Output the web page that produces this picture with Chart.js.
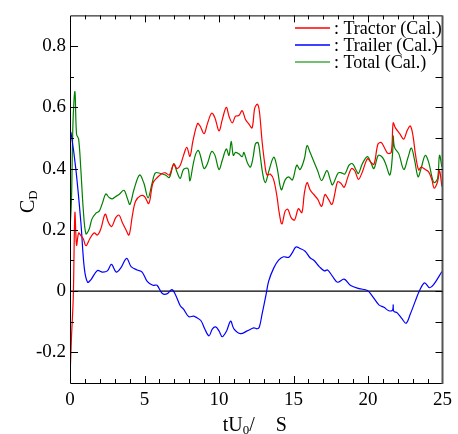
<!DOCTYPE html>
<html>
<head>
<meta charset="utf-8">
<script src="https://cdn.jsdelivr.net/npm/chart.js@4.4.0/dist/chart.umd.min.js"></script>
<style>
  html, body { margin: 0; padding: 0; background: #fff; }
  #wrap { width: 458px; height: 434px; }
</style>
</head>
<body>
<div id="wrap"><canvas id="cdChart" width="458" height="434"></canvas></div>
<script>
// time axis tU0/sqrt(S) and drag coefficient values
const tractorT = [0, 0.1, 0.22, 0.33, 0.44, 0.58, 0.73, 0.89, 1.07, 1.33, 1.62, 1.84, 2.07, 2.36, 2.58, 2.8, 3.07, 3.29, 3.51, 3.73, 3.96, 4.18, 4.4, 4.73, 5.0, 5.29, 5.56, 5.84, 6.18, 6.4, 6.67, 6.96, 7.18, 7.4, 7.62, 7.84, 8.05, 8.25, 8.56, 8.73, 9.0, 9.22, 9.51, 9.73, 10.0, 10.22, 10.49, 10.67, 10.89, 11.11, 11.33, 11.56, 11.78, 12.0, 12.22, 12.4, 12.58, 12.71, 12.89, 13.07, 13.22, 13.44, 13.67, 13.89, 14.04, 14.22, 14.44, 14.62, 14.84, 15.07, 15.33, 15.56, 15.73, 15.91, 16.11, 16.33, 16.62, 16.89, 17.11, 17.33, 17.58, 17.78, 17.96, 18.18, 18.4, 18.62, 18.89, 19.11, 19.36, 19.62, 19.96, 20.18, 20.4, 20.67, 20.89, 21.11, 21.33, 21.56, 21.69, 21.84, 22.13, 22.4, 22.62, 22.84, 23.02, 23.18, 23.4, 23.56, 23.84, 24.07, 24.29, 24.44, 24.67, 24.8, 24.96];
const tractorCd = [-0.283, -0.15, -0.02, 0.256, 0.15, 0.19, 0.181, 0.171, 0.148, 0.171, 0.19, 0.183, 0.203, 0.251, 0.224, 0.211, 0.24, 0.248, 0.224, 0.203, 0.183, 0.245, 0.293, 0.311, 0.309, 0.286, 0.352, 0.37, 0.384, 0.386, 0.379, 0.414, 0.4, 0.411, 0.443, 0.469, 0.44, 0.49, 0.547, 0.539, 0.514, 0.546, 0.581, 0.565, 0.523, 0.56, 0.6, 0.571, 0.549, 0.571, 0.573, 0.589, 0.56, 0.546, 0.533, 0.597, 0.61, 0.587, 0.49, 0.416, 0.379, 0.382, 0.363, 0.309, 0.256, 0.219, 0.261, 0.267, 0.24, 0.232, 0.269, 0.256, 0.32, 0.354, 0.331, 0.317, 0.3, 0.277, 0.315, 0.301, 0.283, 0.32, 0.357, 0.352, 0.339, 0.368, 0.4, 0.393, 0.365, 0.389, 0.432, 0.421, 0.414, 0.48, 0.485, 0.467, 0.45, 0.453, 0.549, 0.533, 0.514, 0.496, 0.523, 0.539, 0.507, 0.448, 0.395, 0.405, 0.397, 0.389, 0.363, 0.336, 0.357, 0.393, 0.341];

const trailerT = [0, 0.07, 0.4, 0.73, 0.96, 1.18, 1.4, 1.84, 2.18, 2.51, 2.78, 3.1, 3.4, 3.8, 4.1, 4.5, 4.84, 5.18, 5.56, 5.84, 6.18, 6.5, 6.84, 7.07, 7.4, 7.62, 7.96, 8.3, 8.44, 8.78, 9.04, 9.33, 9.56, 9.78, 10.0, 10.22, 10.51, 10.78, 11.0, 11.44, 11.89, 12.33, 12.56, 12.71, 12.89, 13.16, 13.33, 13.67, 14.0, 14.33, 14.67, 14.89, 15.16, 15.44, 15.78, 16.11, 16.4, 16.73, 17.07, 17.29, 17.62, 17.96, 18.4, 18.84, 19.4, 19.96, 20.29, 20.73, 21.07, 21.4, 21.65, 21.69, 21.73, 21.96, 22.29, 22.56, 22.84, 23.18, 23.47, 23.8, 24.13, 24.4, 24.96];
const trailerCd = [0.52, 0.517, 0.395, 0.224, 0.075, 0.029, 0.037, 0.067, 0.062, 0.066, 0.087, 0.062, 0.075, 0.107, 0.08, 0.069, 0.062, 0.032, 0.019, 0.019, -0.007, -0.009, 0.005, -0.011, -0.048, -0.059, -0.083, -0.082, -0.085, -0.096, -0.123, -0.146, -0.123, -0.117, -0.13, -0.149, -0.13, -0.098, -0.123, -0.139, -0.13, -0.12, -0.123, -0.117, -0.075, -0.011, 0.032, 0.075, 0.101, 0.112, 0.11, 0.123, 0.144, 0.139, 0.13, 0.109, 0.099, 0.08, 0.066, 0.069, 0.048, 0.029, 0.039, 0.018, 0.008, 0.002, -0.016, -0.045, -0.053, -0.064, -0.062, -0.045, -0.066, -0.071, -0.091, -0.105, -0.075, -0.032, 0.003, 0.027, 0.011, 0.021, 0.064];

const totalT = [0, 0.1, 0.2, 0.33, 0.44, 0.58, 0.73, 0.89, 1.07, 1.29, 1.47, 1.73, 1.96, 2.18, 2.4, 2.62, 2.84, 3.07, 3.29, 3.62, 3.84, 4.02, 4.29, 4.67, 4.96, 5.24, 5.51, 5.73, 6.07, 6.4, 6.67, 6.96, 7.18, 7.4, 7.62, 7.91, 8.05, 8.25, 8.44, 8.62, 8.78, 9.0, 9.22, 9.51, 9.73, 10.0, 10.22, 10.49, 10.67, 10.82, 10.96, 11.11, 11.33, 11.56, 11.67, 11.89, 12.11, 12.29, 12.44, 12.62, 12.78, 12.93, 13.11, 13.33, 13.67, 13.89, 14.18, 14.44, 14.67, 14.93, 15.22, 15.44, 15.73, 15.91, 16.11, 16.33, 16.62, 16.89, 17.24, 17.47, 17.62, 18.0, 18.22, 18.44, 18.73, 18.96, 19.18, 19.36, 19.62, 19.96, 20.18, 20.4, 20.69, 20.96, 21.18, 21.47, 21.65, 21.69, 21.78, 22.07, 22.4, 22.69, 22.91, 23.13, 23.36, 23.56, 23.84, 24.07, 24.29, 24.44, 24.67, 24.8, 24.96];
const totalCd = [0.2, 0.3, 0.55, 0.651, 0.512, 0.496, 0.395, 0.267, 0.187, 0.203, 0.235, 0.254, 0.261, 0.288, 0.317, 0.306, 0.301, 0.309, 0.315, 0.329, 0.304, 0.283, 0.331, 0.379, 0.352, 0.304, 0.352, 0.386, 0.384, 0.379, 0.371, 0.416, 0.389, 0.368, 0.397, 0.4, 0.36, 0.41, 0.448, 0.459, 0.437, 0.4, 0.416, 0.456, 0.443, 0.397, 0.427, 0.464, 0.443, 0.489, 0.443, 0.453, 0.448, 0.439, 0.453, 0.421, 0.405, 0.437, 0.48, 0.485, 0.437, 0.384, 0.354, 0.389, 0.437, 0.405, 0.331, 0.363, 0.373, 0.363, 0.411, 0.397, 0.432, 0.475, 0.453, 0.427, 0.393, 0.361, 0.393, 0.363, 0.347, 0.386, 0.386, 0.382, 0.411, 0.416, 0.397, 0.384, 0.416, 0.439, 0.421, 0.4, 0.443, 0.437, 0.416, 0.379, 0.45, 0.507, 0.469, 0.448, 0.397, 0.437, 0.467, 0.427, 0.373, 0.4, 0.443, 0.421, 0.373, 0.354, 0.368, 0.443, 0.405];

const zeroT = [0, 25];
const zeroCd = [0, 0];

const seriesLabels = [': Tractor (Cal.)', ': Trailer (Cal.)', ': Total (Cal.)'];
const seriesColors = ['rgb(255, 0, 0)', 'rgb(0, 0, 255)', 'rgb(0, 128, 0)'];
const legendColors = ['rgb(255, 0, 0)', 'rgb(0, 0, 255)', 'rgba(0, 140, 0, 0.55)'];
const xTickLabels = ['0', '5', '10', '15', '20', '25'];
const yTickLabels = ['-0.2', '0', '0.2', '0.4', '0.6', '0.8'];

const serif = "'Liberation Serif', 'Times New Roman', serif";

function pts(t, v) {
    return t.map((x, i) => ({ x: x, y: v[i] }));
}

const line_data = {
    datasets: [{
        label: seriesLabels[0],
        data: pts(tractorT, tractorCd),
        borderColor: seriesColors[0],
        borderWidth: 1.2
    }, {
        label: seriesLabels[1],
        data: pts(trailerT, trailerCd),
        borderColor: seriesColors[1],
        borderWidth: 1.2
    }, {
        label: seriesLabels[2],
        data: pts(totalT, totalCd),
        borderColor: seriesColors[2],
        borderWidth: 1.2
    }, {
        label: 'zero',
        data: pts(zeroT, zeroCd),
        borderColor: 'rgb(0, 0, 0)',
        borderWidth: 1.3,
        tension: 0
    }]
};

// frame, inside tick marks, axis titles and the legend box
const decorations = {
    id: 'decorations',
    afterDraw(chart) {
        const ctx = chart.ctx;
        const a = chart.chartArea;
        const xs = chart.scales.x;
        const ys = chart.scales.y;
        ctx.save();
        ctx.strokeStyle = '#000';
        ctx.lineWidth = 1;
        ctx.beginPath();
        ctx.moveTo(a.right, a.top + 0.5);
        ctx.lineTo(a.left + 0.5, a.top + 0.5);
        ctx.lineTo(a.left + 0.5, a.bottom + 0.5);
        ctx.lineTo(a.right, a.bottom + 0.5);
        ctx.stroke();
        ctx.strokeStyle = '#555';
        ctx.lineWidth = 2;
        ctx.beginPath();
        ctx.moveTo(a.right, a.top);
        ctx.lineTo(a.right, a.bottom + 1);
        ctx.stroke();

        ctx.strokeStyle = '#000';
        ctx.lineWidth = 1;
        ctx.beginPath();
        for (let t = 1; t < 25; t++) {
            const px = Math.round(xs.getPixelForValue(t)) + 0.5;
            const len = t % 5 === 0 ? 7 : 4;
            ctx.moveTo(px, a.bottom);
            ctx.lineTo(px, a.bottom - len);
            ctx.moveTo(px, a.top);
            ctx.lineTo(px, a.top + len);
        }
        for (let k = -2; k <= 8; k++) {
            const py = Math.round(ys.getPixelForValue(k / 10)) + 0.5;
            const len = k % 2 === 0 ? 8 : 4;
            ctx.moveTo(a.left, py);
            ctx.lineTo(a.left + len, py);
            ctx.moveTo(a.right, py);
            ctx.lineTo(a.right - 7, py);
        }
        ctx.stroke();

        // x title: tU0/ sqrt(S)
        ctx.fillStyle = '#000';
        ctx.textBaseline = 'alphabetic';
        ctx.textAlign = 'left';
        const cx = (a.left + a.right) / 2;
        let x0 = cx - 33.5;
        const by = 431;
        ctx.font = '20px ' + serif;
        ctx.fillText('tU', x0, by);
        x0 += ctx.measureText('tU').width;
        ctx.font = '13px ' + serif;
        ctx.fillText('0', x0, by + 3);
        x0 += ctx.measureText('0').width;
        ctx.font = '20px ' + serif;
        ctx.fillText('/', x0, by);
        ctx.fillText('S', cx + 19.5, by);

        // y title: C_D
        ctx.save();
        ctx.translate(34, 213);
        ctx.rotate(-Math.PI / 2);
        ctx.font = '20px ' + serif;
        ctx.fillText('C', 0, 0);
        const wc = ctx.measureText('C').width;
        ctx.font = '13px ' + serif;
        ctx.fillText('D', wc, 3);
        ctx.restore();

        // legend
        ctx.font = '18px ' + serif;
        ctx.textBaseline = 'middle';
        for (let i = 0; i < 3; i++) {
            const ly = 28 + i * 17;
            ctx.strokeStyle = legendColors[i];
            ctx.lineWidth = i === 2 ? 2.2 : 1.5;
            ctx.beginPath();
            ctx.moveTo(295, ly);
            ctx.lineTo(330, ly);
            ctx.stroke();
            ctx.fillStyle = '#000';
            ctx.fillText(seriesLabels[i], 334, ly + 1);
        }
        ctx.restore();
    }
};

const configLine = {
    type: 'line',
    data: line_data,
    options: {
        responsive: false,
        animation: false,
        layout: {
            padding: { top: 9, right: 13, left: 0, bottom: 0 }
        },
        elements: {
            point: { radius: 0 },
            line: { tension: 0.35 }
        },
        plugins: {
            legend: { display: false },
            tooltip: { enabled: false }
        },
        scales: {
            x: {
                type: 'linear',
                min: 0,
                max: 25,
                afterFit(scale) { scale.height = 51; },
                grid: { display: false, drawTicks: false },
                border: { display: false },
                ticks: {
                    stepSize: 1,
                    autoSkip: false,
                    maxRotation: 0,
                    padding: 6,
                    color: '#000',
                    font: { family: serif, size: 19 },
                    callback: (v) => (v % 5 === 0 ? xTickLabels[v / 5] : '')
                }
            },
            y: {
                min: -0.3,
                max: 0.9,
                afterFit(scale) { scale.width = 70; },
                grid: { display: false, drawTicks: false },
                border: { display: false },
                ticks: {
                    stepSize: 0.1,
                    autoSkip: false,
                    padding: 4,
                    color: '#000',
                    font: { family: serif, size: 19 },
                    callback: (v) => {
                        const k = Math.round(v * 10);
                        return k % 2 === 0 ? yTickLabels[(k + 2) / 2] || '' : '';
                    }
                }
            }
        }
    },
    plugins: [decorations]
};

const CdChart = new Chart(
    document.getElementById('cdChart'),
    configLine
);
</script>
</body>
</html>
